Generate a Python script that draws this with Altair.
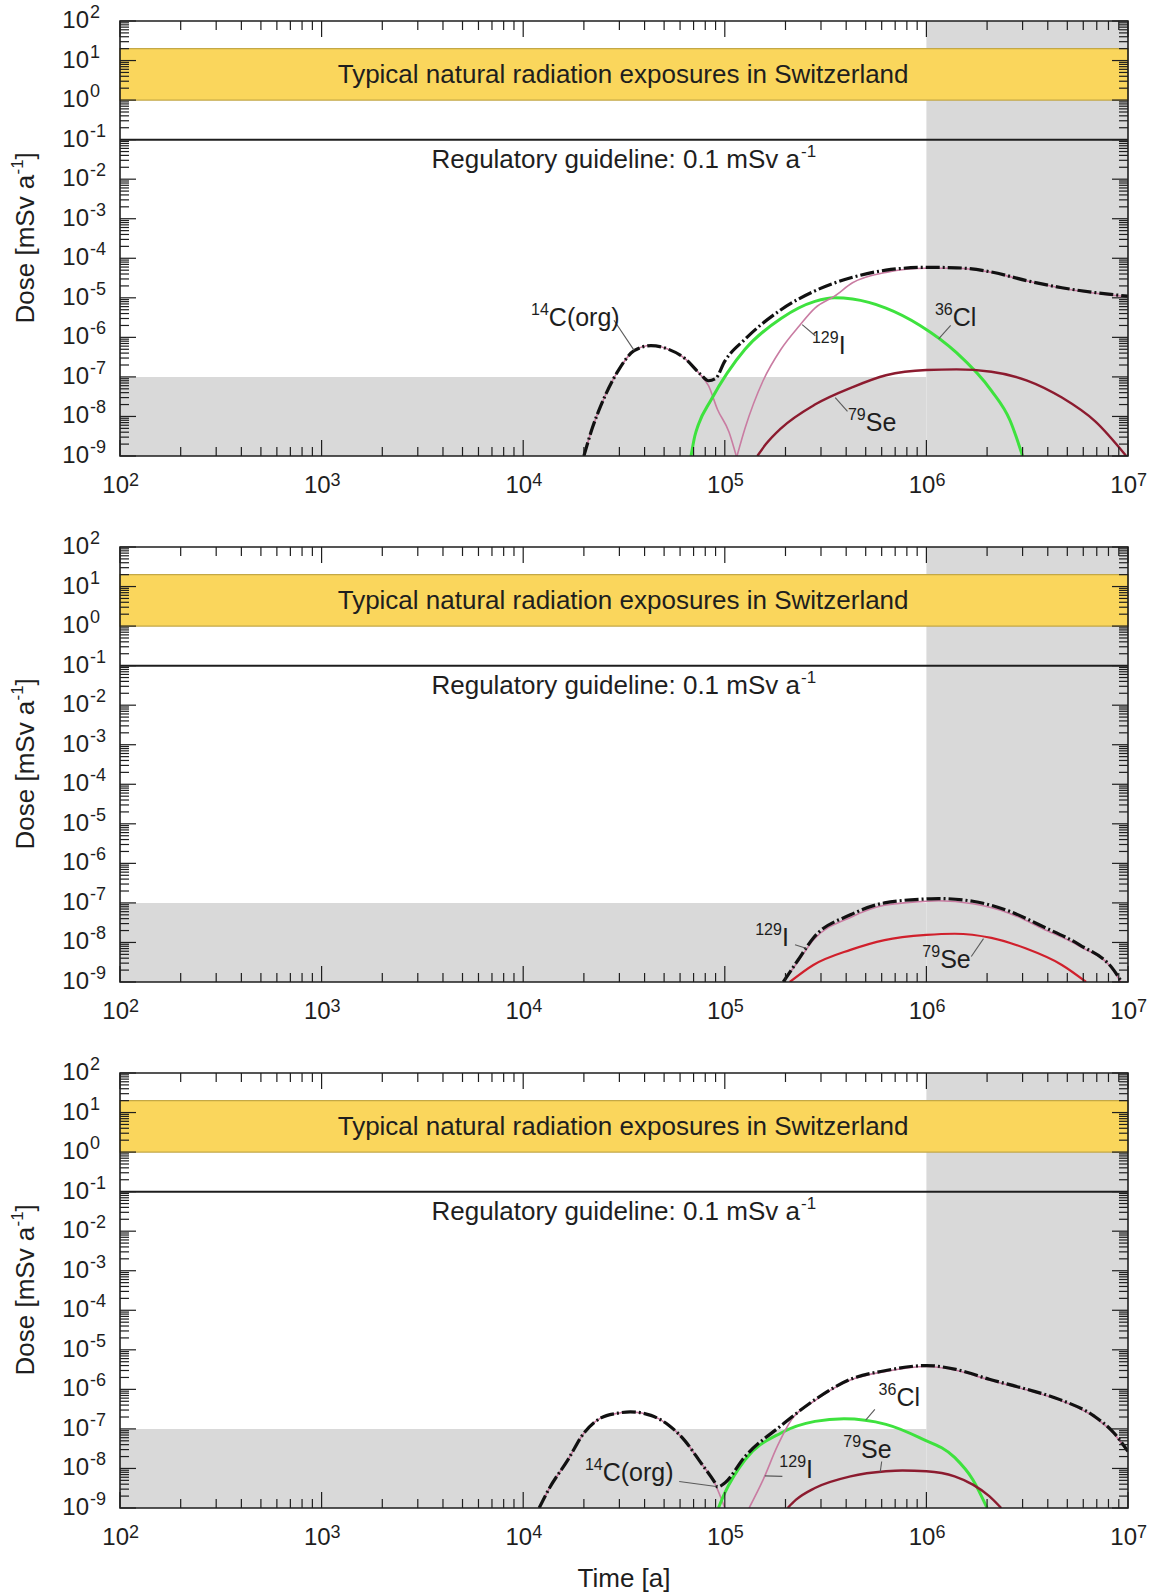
import altair as alt
import pandas as pd

# ---------------------------------------------------------------- styling
FONT = "Liberation Sans"
INK = "#1e1e1e"
GREY = "#d9d9d9"
YELLOW = "#fad65c"
BAND_EDGE = "#c4a845"
GREEN = "#3ee23e"
MAUVE = "#c97ca2"
SE_DARK = "#8c1b2f"
SE_RED = "#d0202c"
LEADER = "#5a5a5a"

W, H = 1008, 435          # plot area of each panel

# ---------------------------------------------------------------- axes
X_DECADES = [1e2, 1e3, 1e4, 1e5, 1e6, 1e7]
X_POWERS = ["2", "3", "4", "5", "6", "7"]
Y_DECADES = [1e-9, 1e-8, 1e-7, 1e-6, 1e-5, 1e-4, 1e-3, 1e-2, 1e-1, 1e0, 1e1, 1e2]
Y_POWERS = ["-9", "-8", "-7", "-6", "-5", "-4", "-3", "-2", "-1", "0", "1", "2"]
MINOR_STEPS = [2, 3, 4, 5, 6, 7, 8, 9]
X_MINOR = [k * d for d in X_DECADES[:-1] for k in MINOR_STEPS]
Y_MINOR = [k * d for d in Y_DECADES[:-1] for k in MINOR_STEPS]

XS = alt.Scale(type="log", domain=[1e2, 1e7], nice=False)
YS = alt.Scale(type="log", domain=[1e-9, 1e2], nice=False)

# ---------------------------------------------------------------- background zones
SHADE_T_FROM = [1e2, 1e6]
SHADE_T_TO = [1e6, 1e7]
SHADE_D_FROM = [1e-9, 1e-9]
SHADE_D_TO = [1e-7, 1e2]
NATURAL_BAND = [1.0, 20.0]        # mSv/a
GUIDELINE = 0.1                   # mSv/a
BAND_TEXT = "Typical natural radiation exposures in Switzerland"
BAND_TEXT_AT = (3.13e4, 4.3)
GUIDE_TEXT = "Regulatory guideline: 0.1 mSv a"
GUIDE_TEXT_AT = (2.36e5, 0.03)

# ---------------------------------------------------------------- panel A
A_C14_T = [2.0e4, 2.2e4, 2.45e4, 2.95e4, 3.55e4, 4.3e4, 5.2e4, 6.3e4, 7.6e4, 8.3e4, 9.2e4, 1.05e5, 1.14e5]
A_C14_D = [1e-9, 5e-9, 2.1e-8, 1.4e-7, 4.6e-7, 6.2e-7, 5.1e-7, 3.0e-7, 1.1e-7, 6.0e-8, 1.5e-8, 4e-9, 1e-9]
A_CL36_T = [6.8e4, 7.1e4, 7.4e4, 8.5e4, 1.26e5, 1.9e5, 2.8e5, 3.5e5, 4.3e5, 6.3e5, 9.3e5, 1.41e6, 2.1e6, 2.6e6, 3.0e6]
A_CL36_D = [1e-9, 3.2e-9, 6.3e-9, 2.5e-8, 5e-7, 3.0e-6, 8.1e-6, 1.0e-5, 9.3e-6, 5.5e-6, 2.0e-6, 4.1e-7, 4.5e-8, 7.9e-9, 1e-9]
A_I129_T = [1.15e5, 1.26e5, 1.55e5, 1.9e5, 2.35e5, 2.8e5, 3.5e5, 4.3e5, 6.3e5, 1.0e6, 1.41e6, 2.1e6, 3.16e6, 4.7e6, 6.9e6, 1.0e7]
A_I129_D = [1e-9, 5e-9, 8.1e-8, 5e-7, 2e-6, 5.5e-6, 1.1e-5, 2.4e-5, 4.4e-5, 5.6e-5, 5.6e-5, 4.4e-5, 2.65e-5, 1.75e-5, 1.3e-5, 1.05e-5]
A_SE79_T = [1.45e5, 1.6e5, 1.9e5, 2.8e5, 4.3e5, 6.3e5, 1.0e6, 1.41e6, 2.1e6, 3.16e6, 4.7e6, 6.9e6, 9.8e6]
A_SE79_D = [1e-9, 2e-9, 5e-9, 2e-8, 5.5e-8, 1.1e-7, 1.5e-7, 1.55e-7, 1.35e-7, 8.1e-8, 3e-8, 7.4e-9, 1e-9]
A_TOTAL_T = [2.0e4, 2.2e4, 2.45e4, 2.95e4, 3.55e4, 4.3e4, 5.2e4, 6.3e4, 7.6e4, 8.3e4, 9.0e4, 1.0e5, 1.26e5,
             1.9e5, 2.8e5, 4.3e5, 6.3e5, 1.0e6, 1.41e6, 2.1e6, 3.16e6, 4.7e6, 6.9e6, 1.0e7]
A_TOTAL_D = [1e-9, 5e-9, 2.1e-8, 1.4e-7, 4.6e-7, 6.2e-7, 5.1e-7, 3.0e-7, 1.15e-7, 8.0e-8, 9.1e-8, 2.5e-7, 9e-7,
             5.0e-6, 1.5e-5, 3.3e-5, 5.0e-5, 5.9e-5, 5.75e-5, 4.5e-5, 2.7e-5, 1.8e-5, 1.35e-5, 1.1e-5]
A_LABEL_SUP = ["14", "129", "36", "79"]
A_LABEL_MAIN = ["C(org)", "I", "Cl", "Se"]
A_LABEL_T = [1.34e4, 3.67e5, 1.35e6, 5.0e5]
A_LABEL_D = [3.0e-6, 6.0e-7, 3.0e-6, 6.8e-9]
A_LEAD_T1 = [2.82e4, 2.42e5, 1.32e6, 4.06e5]
A_LEAD_D1 = [2.7e-6, 2.1e-6, 2.0e-6, 1.35e-8]
A_LEAD_T2 = [3.55e4, 2.81e5, 1.15e6, 3.53e5]
A_LEAD_D2 = [4.7e-7, 1.1e-6, 9.1e-7, 3.0e-8]

# ---------------------------------------------------------------- panel B
B_I129_T = [1.95e5, 2.3e5, 2.75e5, 4.2e5, 6.2e5, 1.0e6, 1.15e6, 1.7e6, 2.57e6, 3.8e6, 5.75e6, 8.5e6, 9.2e6]
B_I129_D = [1e-9, 3.2e-9, 1.15e-8, 4.3e-8, 8.7e-8, 1.1e-7, 1.13e-7, 9.5e-8, 5.5e-8, 2.2e-8, 8e-9, 1.9e-9, 1e-9]
B_SE79_T = [2.1e5, 2.75e5, 4.2e5, 6.2e5, 1.0e6, 1.38e6, 2.1e6, 3.1e6, 4.7e6, 6.2e6]
B_SE79_D = [1e-9, 2.7e-9, 6.5e-9, 1.15e-8, 1.55e-8, 1.66e-8, 1.3e-8, 7.1e-9, 2.7e-9, 1e-9]
B_TOTAL_T = [1.95e5, 2.3e5, 2.75e5, 4.2e5, 6.2e5, 1.0e6, 1.15e6, 1.7e6, 2.57e6, 3.8e6, 5.75e6, 8.5e6, 9.3e6]
B_TOTAL_D = [1e-9, 3.5e-9, 1.3e-8, 5e-8, 1.0e-7, 1.26e-7, 1.29e-7, 1.1e-7, 6.2e-8, 2.5e-8, 8.7e-9, 2e-9, 1e-9]
B_LABEL_SUP = ["129", "79"]
B_LABEL_MAIN = ["I", "Se"]
B_LABEL_T = [1.92e5, 1.17e6]
B_LABEL_D = [1.3e-8, 3.5e-9]
B_LEAD_T1 = [2.23e5, 1.67e6]
B_LEAD_D1 = [8.7e-9, 4.4e-9]
B_LEAD_T2 = [2.55e5, 1.92e6]
B_LEAD_D2 = [7.0e-9, 1.25e-8]

# ---------------------------------------------------------------- panel C
C_C14_T = [1.2e4, 1.35e4, 1.66e4, 2.0e4, 2.43e4, 2.95e4, 3.4e4, 4.3e4, 5.25e4, 6.3e4, 7.6e4, 8.9e4, 1.0e5]
C_C14_D = [1e-9, 3.2e-9, 1.6e-8, 7.8e-8, 1.9e-7, 2.5e-7, 2.7e-7, 2.2e-7, 1.26e-7, 5.2e-8, 1.4e-8, 4.3e-9, 1e-9]
C_CL36_T = [9.3e4, 1.0e5, 1.26e5, 1.9e5, 2.8e5, 3.9e5, 6.3e5, 9.3e5, 1.38e6, 1.7e6, 2.0e6]
C_CL36_D = [1e-9, 2.4e-9, 1.66e-8, 7.9e-8, 1.55e-7, 1.8e-7, 1.3e-7, 5.9e-8, 1.9e-8, 5.2e-9, 1e-9]
C_I129_T = [1.32e5, 1.55e5, 1.82e5, 2.14e5, 2.8e5, 4.2e5, 6.3e5, 1.0e6, 1.4e6, 2.05e6, 3.16e6, 4.6e6, 6.8e6, 8.5e6, 1.0e7]
C_I129_D = [1e-9, 5.2e-9, 3.6e-8, 1.7e-7, 5.2e-7, 1.72e-6, 2.85e-6, 3.8e-6, 3.05e-6, 1.72e-6, 9.6e-7, 5.3e-7, 2.0e-7, 7.6e-8, 2.6e-8]
C_SE79_T = [2.05e5, 2.25e5, 2.8e5, 4.2e5, 6.3e5, 7.6e5, 1.0e6, 1.38e6, 1.7e6, 2.05e6, 2.35e6]
C_SE79_D = [1e-9, 1.6e-9, 3.2e-9, 6.3e-9, 8.5e-9, 8.9e-9, 8.5e-9, 6.3e-9, 3.9e-9, 2e-9, 1e-9]
C_TOTAL_T = [1.2e4, 1.35e4, 1.66e4, 2.0e4, 2.43e4, 2.95e4, 3.4e4, 4.3e4, 5.25e4, 6.3e4, 7.6e4, 8.9e4, 9.2e4, 1.0e5,
             1.26e5, 1.9e5, 2.8e5, 4.2e5, 6.3e5, 1.0e6, 1.4e6, 2.05e6, 3.16e6, 4.6e6, 6.8e6, 8.5e6, 1.0e7]
C_TOTAL_D = [1e-9, 3.2e-9, 1.6e-8, 7.8e-8, 1.9e-7, 2.5e-7, 2.7e-7, 2.2e-7, 1.26e-7, 5.2e-8, 1.4e-8, 4.5e-9, 3.4e-9, 4.3e-9,
             2e-8, 1.2e-7, 5.5e-7, 1.8e-6, 3.0e-6, 4.0e-6, 3.2e-6, 1.8e-6, 1.0e-6, 5.5e-7, 2.1e-7, 8e-8, 2.7e-8]
C_LABEL_SUP = ["36", "79", "129", "14"]
C_LABEL_MAIN = ["Cl", "Se", "I", "C(org)"]
C_LABEL_T = [7.1e5, 4.74e5, 2.53e5, 2.48e4]
C_LABEL_D = [6.0e-7, 2.9e-8, 8.9e-9, 7.6e-9]
C_LEAD_T1 = [5.55e5, 6.0e5, 1.93e5, 5.94e4]
C_LEAD_D1 = [3.1e-7, 1.5e-8, 6.3e-9, 4.7e-9]
C_LEAD_T2 = [5.0e5, 5.9e5, 1.58e5, 9.06e4]
C_LEAD_D2 = [1.66e-7, 8.0e-9, 6.5e-9, 3.5e-9]


def frame_df(**cols):
    return pd.DataFrame(cols)


def curve(t, d, color, width, dash=None):
    mark_kw = dict(color=color, strokeWidth=width, clip=True, interpolate="monotone")
    if dash is not None:
        mark_kw["strokeDash"] = dash
    return alt.Chart(frame_df(t=t, d=d)).mark_line(**mark_kw).encode(
        x=alt.X("t:Q", scale=XS, axis=None),
        y=alt.Y("d:Q", scale=YS, axis=None),
    )


def panel(curves, lab_sup, lab_main, lab_t, lab_d, ld_t1, ld_d1, ld_t2, ld_d2, time_title=False):
    layers = []
    # grey zones
    layers.append(
        alt.Chart(frame_df(t0=SHADE_T_FROM, t1=SHADE_T_TO, d0=SHADE_D_FROM, d1=SHADE_D_TO))
        .mark_rect(color=GREY)
        .encode(x=alt.X("t0:Q", scale=XS, axis=None), x2="t1:Q",
                y=alt.Y("d0:Q", scale=YS, axis=None), y2="d1:Q")
    )
    # natural exposure band
    layers.append(
        alt.Chart(frame_df(t0=[X_DECADES[0]], t1=[X_DECADES[-1]], d0=[NATURAL_BAND[0]], d1=[NATURAL_BAND[1]]))
        .mark_rect(color=YELLOW, stroke=BAND_EDGE, strokeWidth=1.2)
        .encode(x=alt.X("t0:Q", scale=XS, axis=None), x2="t1:Q",
                y=alt.Y("d0:Q", scale=YS, axis=None), y2="d1:Q")
    )
    layers.append(
        alt.Chart(frame_df(t=[BAND_TEXT_AT[0]], d=[BAND_TEXT_AT[1]], s=[BAND_TEXT]))
        .mark_text(font=FONT, fontSize=26, color=INK, align="center", baseline="middle")
        .encode(x=alt.X("t:Q", scale=XS, axis=None), y=alt.Y("d:Q", scale=YS, axis=None), text="s:N")
    )
    # guideline
    layers.append(
        alt.Chart(frame_df(d=[GUIDELINE]))
        .mark_rule(color=INK, strokeWidth=2)
        .encode(y=alt.Y("d:Q", scale=YS, axis=None))
    )
    layers.append(
        alt.Chart(frame_df(t=[GUIDE_TEXT_AT[0]], d=[GUIDE_TEXT_AT[1]], s=[GUIDE_TEXT]))
        .mark_text(font=FONT, fontSize=26, color=INK, align="right", baseline="middle")
        .encode(x=alt.X("t:Q", scale=XS, axis=None), y=alt.Y("d:Q", scale=YS, axis=None), text="s:N")
    )
    layers.append(
        alt.Chart(frame_df(t=[GUIDE_TEXT_AT[0]], d=[GUIDE_TEXT_AT[1]], s=["-1"]))
        .mark_text(font=FONT, fontSize=17, color=INK, align="left", baseline="middle", dy=-8, dx=1)
        .encode(x=alt.X("t:Q", scale=XS, axis=None), y=alt.Y("d:Q", scale=YS, axis=None), text="s:N")
    )
    # dose curves
    layers.extend(curves)

    # inward ticks on all four sides
    def xticks(vals, length):
        src = frame_df(t=vals)
        bottom = alt.Chart(src).mark_rule(color=INK, strokeWidth=1.2).encode(
            x=alt.X("t:Q", scale=XS, axis=None), y=alt.value(H), y2=alt.value(H - length))
        top = alt.Chart(src).mark_rule(color=INK, strokeWidth=1.2).encode(
            x=alt.X("t:Q", scale=XS, axis=None), y=alt.value(0), y2=alt.value(length))
        return [bottom, top]

    def yticks(vals, length):
        src = frame_df(d=vals)
        left = alt.Chart(src).mark_rule(color=INK, strokeWidth=1.2).encode(
            y=alt.Y("d:Q", scale=YS, axis=None), x=alt.value(0), x2=alt.value(length))
        right = alt.Chart(src).mark_rule(color=INK, strokeWidth=1.2).encode(
            y=alt.Y("d:Q", scale=YS, axis=None), x=alt.value(W), x2=alt.value(W - length))
        return [left, right]

    layers += xticks(X_DECADES, 16) + xticks(X_MINOR, 9)
    layers += yticks(Y_DECADES, 16) + yticks(Y_MINOR, 9)

    # plot frame
    layers.append(
        alt.Chart(frame_df(k=[0])).mark_rect(fillOpacity=0, stroke=INK, strokeWidth=1.6).encode(
            x=alt.value(0), x2=alt.value(W), y=alt.value(0), y2=alt.value(H))
    )

    # leader lines and nuclide labels
    layers.append(
        alt.Chart(frame_df(t1=ld_t1, d1=ld_d1, t2=ld_t2, d2=ld_d2))
        .mark_rule(color=LEADER, strokeWidth=1.1)
        .encode(x=alt.X("t1:Q", scale=XS, axis=None), x2="t2:Q",
                y=alt.Y("d1:Q", scale=YS, axis=None), y2="d2:Q")
    )
    lab = frame_df(t=lab_t, d=lab_d, sup=lab_sup, main=lab_main)
    layers.append(
        alt.Chart(lab).mark_text(font=FONT, fontSize=25, color=INK, align="left", baseline="middle")
        .encode(x=alt.X("t:Q", scale=XS, axis=None), y=alt.Y("d:Q", scale=YS, axis=None), text="main:N")
    )
    layers.append(
        alt.Chart(lab).mark_text(font=FONT, fontSize=16, color=INK, align="right", baseline="middle", dy=-8)
        .encode(x=alt.X("t:Q", scale=XS, axis=None), y=alt.Y("d:Q", scale=YS, axis=None), text="sup:N")
    )

    # tick labels: "10" with the power as a superscript
    xlab = frame_df(t=X_DECADES, p=X_POWERS)
    layers.append(
        alt.Chart(xlab).mark_text(font=FONT, fontSize=24, color=INK, align="right", baseline="middle", dx=9)
        .encode(x=alt.X("t:Q", scale=XS, axis=None), y=alt.value(H + 30), text=alt.value("10"))
    )
    layers.append(
        alt.Chart(xlab).mark_text(font=FONT, fontSize=18, color=INK, align="left", baseline="middle", dx=9)
        .encode(x=alt.X("t:Q", scale=XS, axis=None), y=alt.value(H + 25), text="p:N")
    )
    ylab = frame_df(d=Y_DECADES, p=Y_POWERS)
    layers.append(
        alt.Chart(ylab).mark_text(font=FONT, fontSize=24, color=INK, align="right", baseline="middle")
        .encode(x=alt.value(-31), y=alt.Y("d:Q", scale=YS, axis=None), text=alt.value("10"))
    )
    layers.append(
        alt.Chart(ylab).mark_text(font=FONT, fontSize=18, color=INK, align="left", baseline="middle", dy=-8)
        .encode(x=alt.value(-30), y=alt.Y("d:Q", scale=YS, axis=None), text="p:N")
    )

    # y title: Dose [mSv a^-1], rotated
    mid = H / 2
    for txt, size, xpos, ypos in [("Dose [mSv a", 26, -94, mid + 85),
                                  ("-1", 17, -102, mid - 64),
                                  ("]", 26, -94, mid - 79)]:
        layers.append(
            alt.Chart(frame_df(s=[txt]))
            .mark_text(font=FONT, fontSize=size, color=INK, align="left", baseline="middle", angle=270)
            .encode(x=alt.value(xpos), y=alt.value(ypos), text="s:N")
        )
    if time_title:
        layers.append(
            alt.Chart(frame_df(s=["Time [a]"]))
            .mark_text(font=FONT, fontSize=26, color=INK, align="center", baseline="middle")
            .encode(x=alt.value(W / 2), y=alt.value(H + 71), text="s:N")
        )

    return alt.layer(*layers).properties(width=W, height=H)


TOTAL_STYLE = ("#111111", 3.2, [14, 3, 2, 3])

panel_a = panel(
    [
        curve(A_C14_T, A_C14_D, MAUVE, 1.6),
        curve(A_CL36_T, A_CL36_D, GREEN, 3),
        curve(A_I129_T, A_I129_D, MAUVE, 1.6),
        curve(A_SE79_T, A_SE79_D, SE_DARK, 2.4),
        curve(A_TOTAL_T, A_TOTAL_D, *TOTAL_STYLE),
    ],
    A_LABEL_SUP, A_LABEL_MAIN, A_LABEL_T, A_LABEL_D, A_LEAD_T1, A_LEAD_D1, A_LEAD_T2, A_LEAD_D2,
)

panel_b = panel(
    [
        curve(B_I129_T, B_I129_D, MAUVE, 1.6),
        curve(B_SE79_T, B_SE79_D, SE_RED, 2.2),
        curve(B_TOTAL_T, B_TOTAL_D, *TOTAL_STYLE),
    ],
    B_LABEL_SUP, B_LABEL_MAIN, B_LABEL_T, B_LABEL_D, B_LEAD_T1, B_LEAD_D1, B_LEAD_T2, B_LEAD_D2,
)

panel_c = panel(
    [
        curve(C_C14_T, C_C14_D, MAUVE, 1.6),
        curve(C_CL36_T, C_CL36_D, GREEN, 3),
        curve(C_I129_T, C_I129_D, MAUVE, 1.6),
        curve(C_SE79_T, C_SE79_D, SE_DARK, 2.4),
        curve(C_TOTAL_T, C_TOTAL_D, *TOTAL_STYLE),
    ],
    C_LABEL_SUP, C_LABEL_MAIN, C_LABEL_T, C_LABEL_D, C_LEAD_T1, C_LEAD_D1, C_LEAD_T2, C_LEAD_D2,
    time_title=True,
)

chart = (
    alt.vconcat(panel_a, panel_b, panel_c, spacing=91, bounds="flush")
    .properties(padding={"left": 9, "top": 4, "right": 4, "bottom": 4}, background="white")
    .configure_view(strokeWidth=0)
)

chart.save("out.html", embed_options={"renderer": "svg", "actions": False})
